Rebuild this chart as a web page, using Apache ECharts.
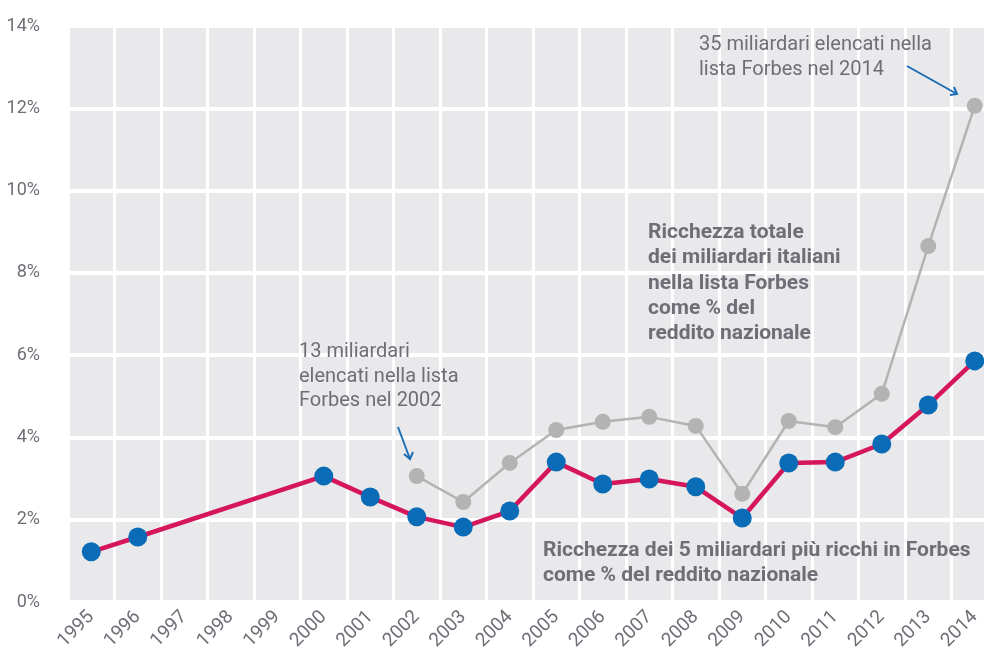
<!DOCTYPE html>
<html>
<head>
<meta charset="utf-8">
<script src="https://cdn.jsdelivr.net/npm/echarts@6/dist/echarts.min.js"></script>
<style>
  html, body { margin: 0; padding: 0; background: #fff; }
  #chart { width: 984px; height: 655px; }
</style>
</head>
<body>
<div id="chart"></div>
<script>
// anni sull'asse x
var years = ['1995', '1996', '1997', '1998', '1999', '2000', '2001', '2002', '2003', '2004',
  '2005', '2006', '2007', '2008', '2009', '2010', '2011', '2012', '2013', '2014'];

// ricchezza dei 5 miliardari più ricchi (% reddito nazionale)
var top5 = [1.22, 1.58, null, null, null, 3.06, 2.55, 2.07, 1.82, 2.21,
  3.40, 2.87, 2.99, 2.80, 2.04, 3.38, 3.40, 3.84, 4.79, 5.86];

// ricchezza totale dei miliardari italiani in Forbes (% reddito nazionale)
var totale = [null, null, null, null, null, null, null, 3.06, 2.43, 3.38,
  4.18, 4.38, 4.50, 4.28, 2.63, 4.40, 4.25, 5.06, 8.65, 12.06];

var yTicks = { min: 0, max: 14, interval: 2 };

var textColor = '#6e6f76';
var arrowColor = '#1a6db5';
var fontFam = 'Roboto, "Noto Sans", sans-serif';

var chart = echarts.init(document.getElementById('chart'));

var option = {
  backgroundColor: '#ffffff',
  animation: false,
  grid: {
    left: 68,
    top: 26,
    width: 930,
    height: 576,
    outerBoundsMode: 'none',
    containLabel: false,
    show: true,
    backgroundColor: '#e9e9eb',
    borderWidth: 0
  },
  xAxis: {
    type: 'category',
    data: years,
    boundaryGap: true,
    axisLine: { show: false },
    axisTick: { show: false },
    splitLine: {
      show: true,
      interval: 0,
      lineStyle: { color: '#ffffff', width: 3 }
    },
    axisLabel: {
      interval: 0,
      rotate: 45,
      margin: 12,
      color: textColor,
      fontSize: 19,
      fontFamily: fontFam
    }
  },
  yAxis: {
    type: 'value',
    min: yTicks.min,
    max: yTicks.max,
    interval: yTicks.interval,
    axisLine: { show: false },
    axisTick: { show: false },
    splitLine: { lineStyle: { color: '#ffffff', width: 4 } },
    axisLabel: {
      formatter: '{value}%',
      margin: 28,
      color: textColor,
      fontSize: 18,
      fontFamily: fontFam
    }
  },
  series: [
    {
      name: 'Totale',
      type: 'line',
      data: totale,
      symbol: 'circle',
      symbolSize: 16,
      itemStyle: { color: '#b3b3b3' },
      lineStyle: { color: '#b3b3b3', width: 2.5 },
      z: 2
    },
    {
      name: 'Top 5',
      type: 'line',
      data: top5,
      connectNulls: true,
      symbol: 'circle',
      symbolSize: 19,
      itemStyle: { color: '#0a6bb6' },
      lineStyle: { color: '#d5165a', width: 4.5 },
      z: 3
    }
  ],
  graphic: [
    {
      type: 'text', left: 299, top: 340, z: 100,
      style: {
        text: '13 miliardari\nelencati nella lista\nForbes nel 2002',
        fill: textColor, font: '20px ' + fontFam, lineHeight: 24.5
      }
    },
    {
      type: 'text', left: 699, top: 32, z: 100,
      style: {
        text: '35 miliardari elencati nella\nlista Forbes nel 2014',
        fill: textColor, font: '20px ' + fontFam, lineHeight: 25
      }
    },
    {
      type: 'text', left: 648, top: 220, z: 100,
      style: {
        text: 'Ricchezza totale\ndei miliardari italiani\nnella lista Forbes\ncome % del\nreddito nazionale',
        fill: textColor, font: 'bold 21px ' + fontFam, lineHeight: 25.3
      }
    },
    {
      type: 'text', left: 543, top: 538, z: 100,
      style: {
        text: 'Ricchezza dei 5 miliardari più ricchi in Forbes\ncome % del reddito nazionale',
        fill: textColor, font: 'bold 21px ' + fontFam, lineHeight: 25
      }
    },
    // freccia 2002
    {
      type: 'line', z: 100,
      shape: { x1: 398, y1: 427, x2: 410, y2: 459 },
      style: { stroke: arrowColor, lineWidth: 2 }
    },
    {
      type: 'polyline', z: 100,
      shape: { points: [[404, 454], [410, 459], [413, 452]] },
      style: { stroke: arrowColor, lineWidth: 2, fill: null }
    },
    // freccia 2014
    {
      type: 'line', z: 100,
      shape: { x1: 907, y1: 66, x2: 957, y2: 94 },
      style: { stroke: arrowColor, lineWidth: 2 }
    },
    {
      type: 'polyline', z: 100,
      shape: { points: [[950, 95], [957, 94], [954, 87]] },
      style: { stroke: arrowColor, lineWidth: 2, fill: null }
    }
  ]
};

chart.setOption(option);
</script>
</body>
</html>
